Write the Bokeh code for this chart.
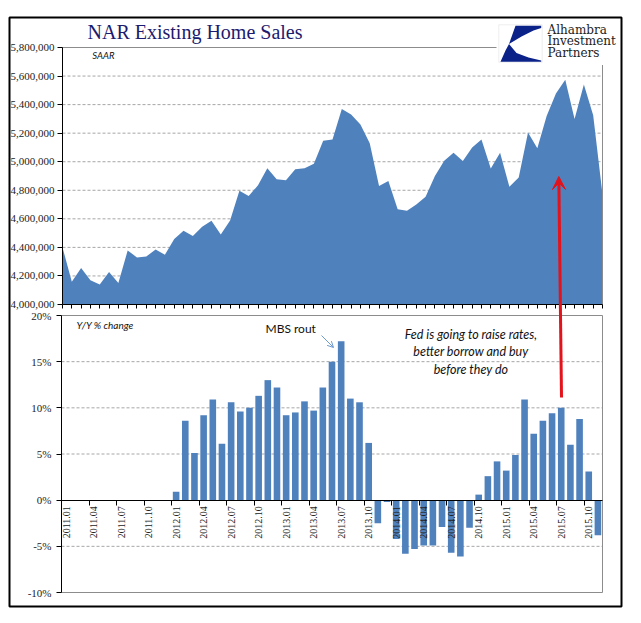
import math
from bokeh.plotting import figure
from bokeh.models import (Range1d, FixedTicker, NumeralTickFormatter, PrintfTickFormatter,
                          LinearAxis, Label, Arrow, VeeHead, OpenHead,
                          BoxAnnotation, PolyAnnotation)
from bokeh.embed import file_html
from bokeh.resources import INLINE

# ---------------- data ----------------
months = [f"{y}.{m:02d}" for y in range(2011, 2016) for m in range(1, 13)][:59]

sales = [4400000, 4160000, 4255000, 4170000, 4140000, 4227000, 4150000, 4378000, 4330000, 4336000, 4386000, 4348000,
         4458000, 4516000, 4480000, 4545000, 4586000, 4490000, 4589000, 4796000, 4760000, 4835000, 4954000, 4878000,
         4870000, 4948000, 4955000, 4986000, 5147000, 5156000, 5370000, 5330000, 5260000, 5130000, 4830000, 4865000,
         4667000, 4657000, 4700000, 4755000, 4900000, 5007000, 5063000, 5005000, 5100000, 5155000, 4953000, 5063000,
         4825000, 4890000, 5205000, 5095000, 5320000, 5477000, 5575000, 5300000, 5540000, 5325000, 4770000]

yoy = [None] * 12 + [
    0.9, 8.6, 5.1, 9.2, 10.9, 6.1, 10.6, 9.6, 10.0, 11.3, 13.0, 12.2,
    9.2, 9.5, 10.7, 9.7, 12.2, 15.0, 17.2, 11.0, 10.6, 6.2, -2.5, -0.2,
    -4.2, -5.8, -5.3, -4.9, -4.9, -2.9, -5.7, -6.1, -3.0, 0.6, 2.6, 4.2,
    3.2, 4.9, 10.9, 7.2, 8.6, 9.4, 10.0, 6.0, 8.8, 3.1, -3.8]

tick_labels = ["2011.01", "2011.04", "2011.07", "2011.10", "2012.01", "2012.04", "2012.07", "2012.10",
               "2013.01", "2013.04", "2013.07", "2013.10", "2014.01", "2014.04", "2014.07", "2014.10",
               "2015.01", "2015.04", "2015.07", "2015.10"]
sales_ticks = [4000000, 4200000, 4400000, 4600000, 4800000, 5000000, 5200000, 5400000, 5600000, 5800000]
pct_ticks = [-10, -5, 0, 5, 10, 15, 20]

# ---------------- style / layout geometry (pixels) ----------------
BLUE = "#4F81BD"
GRID = "#A6A6A6"
OUTLINE = "#8C8C8C"
SERIF = "Liberation Serif"
SANS = "Lato"
RED = "#E3121B"
NAVY_TITLE = "#1B1B6F"
NAVY_LOGO = "#0B2289"
TXT = "#222222"

W, H = 641, 623
FL, FR, FT, FB = 9, 621, 17, 606          # outer box (frame)
TL, TR, TT, TB = 62, 602, 47, 304         # top plot area
BL, BR, BT, BB = 61, 602, 315, 592        # bottom plot area

n = len(sales)
idx = list(range(n))

# ranges so that each panel's data fill its plot area inside the single frame
ux = (n - 1) / (TR - TL)
x_top = Range1d(0 - (TL - FL) * ux, (n - 1) + (FR - TR) * ux)
uy = (sales_ticks[-1] - sales_ticks[0]) / (TB - TT)
y_top = Range1d(sales_ticks[0] - (FB - TB) * uy, sales_ticks[-1] + (TT - FT) * uy)
bx0, bx1 = -0.5, n - 0.5
ubx = (bx1 - bx0) / (BR - BL)
x_bars = Range1d(bx0 - (BL - FL) * ubx, bx1 + (FR - BR) * ubx)
upy = (pct_ticks[-1] - pct_ticks[0]) / (BB - BT)
y_pct = Range1d(pct_ticks[0] - (FB - BB) * upy, pct_ticks[-1] + (BT - FT) * upy)

p = figure(width=W, height=H, title=None, output_backend="svg", toolbar_location=None,
           x_range=x_top, y_range=y_top, x_axis_location=None, y_axis_location=None,
           min_border_left=FL, min_border_right=W - FR, min_border_top=FT, min_border_bottom=H - FB)
p.extra_x_ranges = {"bars": x_bars}
p.extra_y_ranges = {"pct": y_pct}
p.outline_line_color = "black"
p.outline_line_width = 2
p.background_fill_color = "white"
p.border_fill_color = "white"
p.xgrid.visible = False
p.ygrid.visible = False

# ---------------- top panel ----------------
p.segment(x0=0, x1=n - 1, y0=sales_ticks[1:], y1=sales_ticks[1:], line_color=GRID, line_dash="3 2", line_width=1)
p.varea(x=idx, y1=sales_ticks[0], y2=sales, fill_color=BLUE, fill_alpha=1)
p.line(x=[0, n - 1, n - 1], y=[sales_ticks[-1], sales_ticks[-1], sales_ticks[0]], line_color=OUTLINE, line_width=1)

yax1 = LinearAxis(ticker=FixedTicker(ticks=sales_ticks), formatter=NumeralTickFormatter(format="0,0"),
                  fixed_location=0, bounds=(sales_ticks[0], sales_ticks[-1]),
                  major_tick_in=0, major_tick_out=5, minor_tick_out=0, minor_tick_in=0,
                  major_label_standoff=3, axis_line_color="black", major_tick_line_color="black",
                  major_label_text_font=SERIF, major_label_text_font_size="11px", major_label_text_color=TXT)
p.add_layout(yax1, "left")
xax1 = LinearAxis(ticker=FixedTicker(ticks=idx), fixed_location=sales_ticks[0], bounds=(0, n - 1),
                  major_tick_in=0, major_tick_out=4, minor_tick_out=0, minor_tick_in=0,
                  major_label_text_color=None, axis_line_color="black", major_tick_line_color="black")
p.add_layout(xax1, "below")

# ---------------- bottom panel ----------------
p.segment(x0=bx0, x1=bx1, y0=[-5, 5, 10, 15], y1=[-5, 5, 10, 15], line_color=GRID, line_dash="3 2",
          line_width=1, x_range_name="bars", y_range_name="pct")
bxs = [i for i, v in enumerate(yoy) if v is not None]
bts = [v for v in yoy if v is not None]
p.vbar(x=bxs, top=bts, bottom=0, width=0.72, fill_color=BLUE, line_color=None,
       x_range_name="bars", y_range_name="pct")
p.line(x=[bx0, bx1, bx1, bx0], y=[pct_ticks[-1], pct_ticks[-1], pct_ticks[0], pct_ticks[0]],
       line_color=OUTLINE, line_width=1, x_range_name="bars", y_range_name="pct")

yax2 = LinearAxis(ticker=FixedTicker(ticks=pct_ticks), formatter=PrintfTickFormatter(format="%d%%"),
                  x_range_name="bars", y_range_name="pct", fixed_location=bx0,
                  bounds=(pct_ticks[0], pct_ticks[-1]),
                  major_tick_in=0, major_tick_out=5, minor_tick_out=0, minor_tick_in=0,
                  major_label_standoff=5, axis_line_color="black", major_tick_line_color="black",
                  major_label_text_font=SERIF, major_label_text_font_size="11px", major_label_text_color=TXT)
p.add_layout(yax2, "left")

tick_pos = [months.index(t) for t in tick_labels]
xax2 = LinearAxis(ticker=FixedTicker(ticks=[t - 0.5 for t in tick_pos]), x_range_name="bars", y_range_name="pct",
                  fixed_location=0, bounds=(bx0, bx1),
                  major_tick_in=0, major_tick_out=5, minor_tick_out=0, minor_tick_in=0,
                  major_label_text_color=None, axis_line_color="black", major_tick_line_color="black")
p.add_layout(xax2, "below")
xlab2 = LinearAxis(ticker=FixedTicker(ticks=tick_pos), x_range_name="bars", y_range_name="pct",
                   fixed_location=0,
                   major_tick_in=0, major_tick_out=0, minor_tick_out=0, minor_tick_in=0,
                   axis_line_color=None, major_label_orientation=math.pi / 2, major_label_standoff=6,
                   major_label_overrides={q: l for q, l in zip(tick_pos, tick_labels)},
                   major_label_text_font=SERIF, major_label_text_font_size="10px", major_label_text_color=TXT)
p.add_layout(xlab2, "below")


# ---------------- texts & decorations (screen units relative to the frame) ----------------
def sx(px):
    return px - FL


def sy(py):
    return FB - py


p.add_layout(Label(x=sx(87), y=sy(42.7), x_units="screen", y_units="screen", text="NAR Existing Home Sales",
                   text_font=SERIF, text_font_size="20px", text_color=NAVY_TITLE))
p.add_layout(Label(x=sx(91.7), y=sy(60.7), x_units="screen", y_units="screen", text="SAAR",
                   text_font=SANS, text_font_style="italic", text_font_size="9.5px", text_color="#111111"))

# logo
p.add_layout(BoxAnnotation(left=sx(496), right=sx(607), top=sy(40), bottom=sy(64.5), left_units="screen",
                           right_units="screen", top_units="screen", bottom_units="screen",
                           fill_color="white", fill_alpha=1, line_color=None))
p.add_layout(BoxAnnotation(left=sx(498.3), right=sx(541.7), top=sy(24.3), bottom=sy(61.7), left_units="screen",
                           right_units="screen", top_units="screen", bottom_units="screen",
                           fill_color="white", fill_alpha=1, line_color="#C8C8C8", line_width=1))
logo_up = [(515, 25.3), (540.7, 25.3), (540.7, 27.5), (533, 30), (521, 36), (508.5, 43.5)]
logo_low = [(508.5, 43.5), (505, 50), (500, 61.2), (540.7, 61.2), (540.7, 60), (528, 57), (516, 52.5)]
for shape in (logo_up, logo_low):
    p.add_layout(PolyAnnotation(xs=[sx(a) for a, b in shape], ys=[sy(b) for a, b in shape],
                                xs_units="screen", ys_units="screen", fill_color=NAVY_LOGO, fill_alpha=1,
                                line_color=None))
for txt, base in [("Alhambra", 36), ("Investment", 47.5), ("Partners", 59.3)]:
    p.add_layout(Label(x=sx(547), y=sy(base), x_units="screen", y_units="screen", text=txt,
                       text_font="DejaVu Serif", text_font_size="12px", text_color="#222222"))

p.add_layout(Label(x=sx(76), y=sy(330), x_units="screen", y_units="screen", text="Y/Y % change",
                   text_font=SANS, text_font_style="italic", text_font_size="10px", text_color="#111111"))
p.add_layout(Label(x=sx(265), y=sy(335), x_units="screen", y_units="screen", text="MBS rout",
                   text_font=SANS, text_font_size="12px", text_color="#111111"))
p.add_layout(Arrow(end=OpenHead(size=6, line_color="#6F9AD0", line_width=1),
                   x_start=sx(321), y_start=sy(335), x_end=sx(333), y_end=sy(347),
                   start_units="screen", end_units="screen", line_color="#6F9AD0", line_width=1))
for txt, base in [("Fed is going to raise rates,", 341), ("better borrow and buy", 358.5), ("before they do", 376)]:
    p.add_layout(Label(x=sx(470.5), y=sy(base), x_units="screen", y_units="screen", text=txt, text_align="center",
                       text_font=SANS, text_font_style="italic", text_font_size="12.5px", text_color="#111111"))

# red arrow
p.add_layout(Arrow(end=VeeHead(size=13, fill_color=RED, line_color=RED), x_start=sx(561), y_start=sy(397),
                   x_end=sx(558.3), y_end=sy(176), start_units="screen", end_units="screen",
                   line_color=RED, line_width=3))

open("out.html", "w").write(file_html(p, INLINE))
